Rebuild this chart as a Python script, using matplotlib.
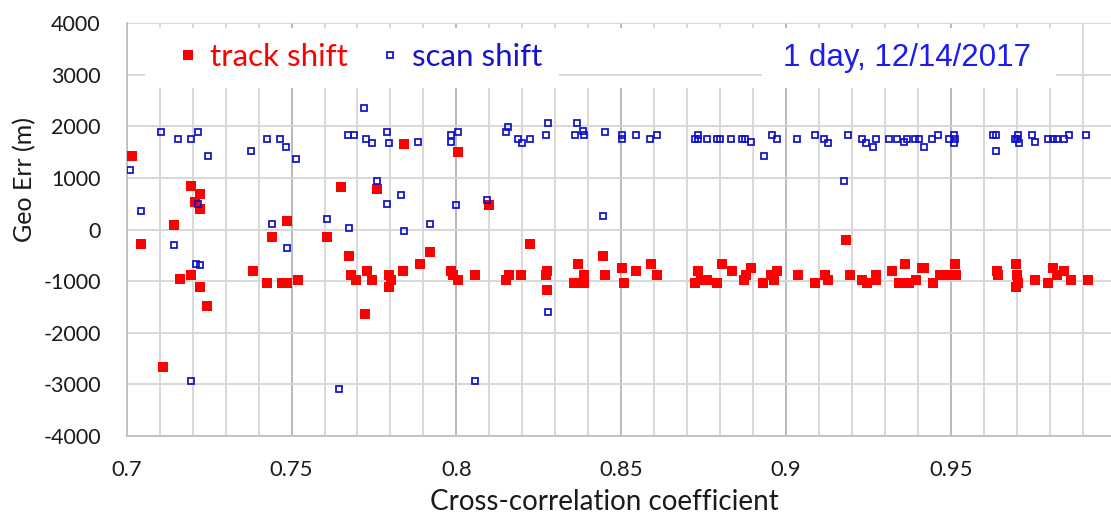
import matplotlib
matplotlib.use("Agg")
import matplotlib.pyplot as plt
from matplotlib.patches import Rectangle
from matplotlib.ticker import MultipleLocator, FuncFormatter

plt.rcParams['font.family'] = ['Lato', 'DejaVu Sans']
plt.rcParams['axes.unicode_minus'] = False

# ---------- data ----------
track_cc = [0.7017, 0.7042, 0.7194, 0.7221, 0.7208, 0.7221, 0.7142, 0.7111, 0.7163, 0.7194,
            0.7221, 0.7245, 0.7382, 0.7425, 0.7440, 0.7485, 0.7470, 0.7485, 0.7519, 0.7607,
            0.7649, 0.7674, 0.7680, 0.7695, 0.7722, 0.7728, 0.7744, 0.7759, 0.7795, 0.7801,
            0.7795, 0.7838, 0.7841, 0.7890, 0.7920, 0.7983, 0.7989, 0.8004, 0.8004, 0.8057,
            0.8099, 0.8151, 0.8160, 0.8195, 0.8224, 0.8276, 0.8273, 0.8276, 0.8368, 0.8358,
            0.8377, 0.8386, 0.8386, 0.8444, 0.8450, 0.8502, 0.8508, 0.8544, 0.8590, 0.8608,
            0.8733, 0.8724, 0.8742, 0.8760, 0.8791, 0.8806, 0.8837, 0.8873, 0.8879, 0.8894,
            0.8931, 0.8955, 0.8964, 0.8973, 0.9036, 0.9089, 0.9117, 0.9126, 0.9183, 0.9193,
            0.9229, 0.9247, 0.9272, 0.9272, 0.9320, 0.9360, 0.9344, 0.9374, 0.9393, 0.9411,
            0.9420, 0.9445, 0.9466, 0.9512, 0.9496, 0.9517, 0.9640, 0.9643, 0.9697, 0.9700,
            0.9703, 0.9697, 0.9755, 0.9794, 0.9810, 0.9822, 0.9843, 0.9864, 0.9916]
track_err = [1427, -278, 833, 691, 529, 400, 90, -2660, -968, -872,
             -1110, -1478, -800, -1033, -142, 168, -1033, -1033, -975, -142,
             826, -510, -872, -975, -1633, -800, -975, 775, -872, -975,
             -1110, -800, 1659, -665, -432, -800, -872, -975, 1504, -872,
             465, -975, -872, -872, -278, -800, -872, -1168, -665, -1033,
             -1033, -872, -1033, -510, -872, -742, -1033, -800, -665, -872,
             -800, -1033, -975, -975, -1033, -665, -800, -975, -872, -742,
             -1033, -872, -975, -800, -872, -1033, -872, -975, -200, -872,
             -975, -1033, -872, -975, -800, -665, -1033, -1033, -975, -742,
             -742, -1033, -872, -665, -872, -872, -800, -872, -665, -872,
             -1033, -1110, -975, -1033, -742, -872, -800, -975, -975]

scan_cc = [0.7011, 0.7042, 0.7105, 0.7157, 0.7194, 0.7215, 0.7246, 0.7142, 0.7209, 0.7221,
           0.7215, 0.7194, 0.7377, 0.7425, 0.7466, 0.7482, 0.7514, 0.7440, 0.7487, 0.7643,
           0.7607, 0.7675, 0.7671, 0.7690, 0.7721, 0.7727, 0.7744, 0.7759, 0.7789, 0.7795,
           0.7789, 0.7832, 0.7842, 0.7884, 0.7920, 0.7983, 0.7983, 0.8004, 0.7999, 0.8057,
           0.8151, 0.8157, 0.8093, 0.8188, 0.8224, 0.8198, 0.8277, 0.8273, 0.8277, 0.8366,
           0.8360, 0.8386, 0.8383, 0.8450, 0.8445, 0.8502, 0.8502, 0.8544, 0.8587, 0.8608,
           0.8733, 0.8724, 0.8733, 0.8760, 0.8791, 0.8801, 0.8834, 0.8867, 0.8876, 0.8894,
           0.8932, 0.8958, 0.8973, 0.9032, 0.9089, 0.9114, 0.9126, 0.9177, 0.9189, 0.9229,
           0.9244, 0.9265, 0.9272, 0.9312, 0.9338, 0.9357, 0.9366, 0.9390, 0.9402, 0.9418,
           0.9443, 0.9460, 0.9493, 0.9511, 0.9508, 0.9514, 0.9628, 0.9637, 0.9637, 0.9694,
           0.9703, 0.9700, 0.9706, 0.9746, 0.9755, 0.9794, 0.9810, 0.9822, 0.9843, 0.9858,
           0.9910]
scan_err = [1162, 368, 1898, 1762, 1762, 1898, 1433, -303, -665, -697,
            497, -2931, 1530, 1762, 1762, 1601, 1362, 97, -368, -3099,
            200, 32, 1827, 1827, 2363, 1762, 1666, 936, 1898, 1666,
            497, 665, -32, 1698, 97, 1833, 1698, 1898, 465, -2931,
            1898, 1995, 575, 1762, 1762, 1666, 2066, 1833, -1601, 2066,
            1833, 1833, 1911, 1898, 265, 1827, 1762, 1827, 1762, 1827,
            1827, 1762, 1762, 1762, 1762, 1762, 1762, 1762, 1762, 1698,
            1433, 1833, 1762, 1762, 1833, 1762, 1666, 930, 1833, 1762,
            1666, 1601, 1762, 1762, 1762, 1698, 1762, 1762, 1762, 1601,
            1762, 1833, 1762, 1833, 1666, 1762, 1833, 1833, 1530, 1762,
            1833, 1762, 1666, 1833, 1698, 1762, 1762, 1762, 1762, 1833,
            1833]

RED = '#ff0000'
BLUE = '#1010c8'
GRID_MINOR = '#d6d6d6'
GRID_MAJOR = '#b4b4b4'
TXT = '#1a1a1a'

W, H = 1111, 524
fig = plt.figure(figsize=(W / 100, H / 100), dpi=100)
# plot area in pixels: x 126.7..1115.7, y 23..436
ax = fig.add_axes([126.7 / W, 1 - 436 / H, 989 / W, 413 / H])

ax.plot(track_cc, track_err, 's', color=RED, ms=6.6, mew=0, label='track shift', zorder=3)
ax.plot(scan_cc, scan_err, 's', mfc='none', mec=BLUE, ms=4.7, mew=1.25, label='scan shift', zorder=3)

ax.set_xlim(0.7, 1.0)
ax.set_ylim(-4000, 4000)
ax.xaxis.set_major_locator(MultipleLocator(0.05))
ax.xaxis.set_minor_locator(MultipleLocator(0.01))
ax.yaxis.set_major_locator(MultipleLocator(1000))
ax.xaxis.set_major_formatter(FuncFormatter(lambda v, p: f"{v:g}"))

ax.set_axisbelow(True)
ax.grid(which='minor', axis='x', color=GRID_MINOR, lw=1.3)
ax.grid(which='major', axis='x', color=GRID_MAJOR, lw=1.3)
ax.grid(which='major', axis='y', color=GRID_MINOR, lw=1.3)

for s in ['top', 'right']:
    ax.spines[s].set_visible(False)
for s in ['left', 'bottom']:
    ax.spines[s].set_color('#bfbfbf')
    ax.spines[s].set_linewidth(1.3)

ax.tick_params(which='both', length=0)
ax.tick_params(axis='x', pad=17, labelsize=15.8, colors=TXT)
ax.tick_params(axis='y', pad=18.6, labelsize=15.5, colors=TXT)

ax.set_xlabel('Cross-correlation coefficient', fontsize=20, color=TXT)
ax.xaxis.set_label_coords((604 - 126.7) / 989, (436 - 502) / 413)
ax.xaxis.label.set_va('center')
ax.set_ylabel('Geo Err (m)', fontsize=18, color=TXT)
ax.yaxis.set_label_coords((25 - 126.7) / 989, (436 - 180) / 413)
ax.yaxis.label.set_va('center')

# white band behind legend and date (hides gridlines), 3000 line shows in the gap
ax.add_patch(Rectangle((145 / W, 1 - 88 / H), (1056 - 145) / W, 60 / H,
                       transform=fig.transFigure, facecolor='white',
                       edgecolor='none', zorder=1))
ax.axhline(3000, xmin=(560 - 126.7) / 989, xmax=(761 - 126.7) / 989,
           color=GRID_MINOR, lw=1.3, zorder=1.2)

leg = ax.legend(loc='center left', bbox_to_anchor=(177 / W, 1 - 57 / H),
                bbox_transform=fig.transFigure, ncol=2, frameon=False,
                fontsize=22.5, handlelength=0.7, handletextpad=0.35,
                columnspacing=1.0, borderpad=0, borderaxespad=0,
                labelcolor=[RED, '#1414cc'])
leg.set_zorder(4)

fig.text(783 / W, 1 - 58 / H, '1 day, 12/14/2017', fontsize=22.5,
         family=['Liberation Sans', 'DejaVu Sans'], color='#1c1cf0',
         ha='left', va='center')

fig.savefig('out.png', dpi=100)
